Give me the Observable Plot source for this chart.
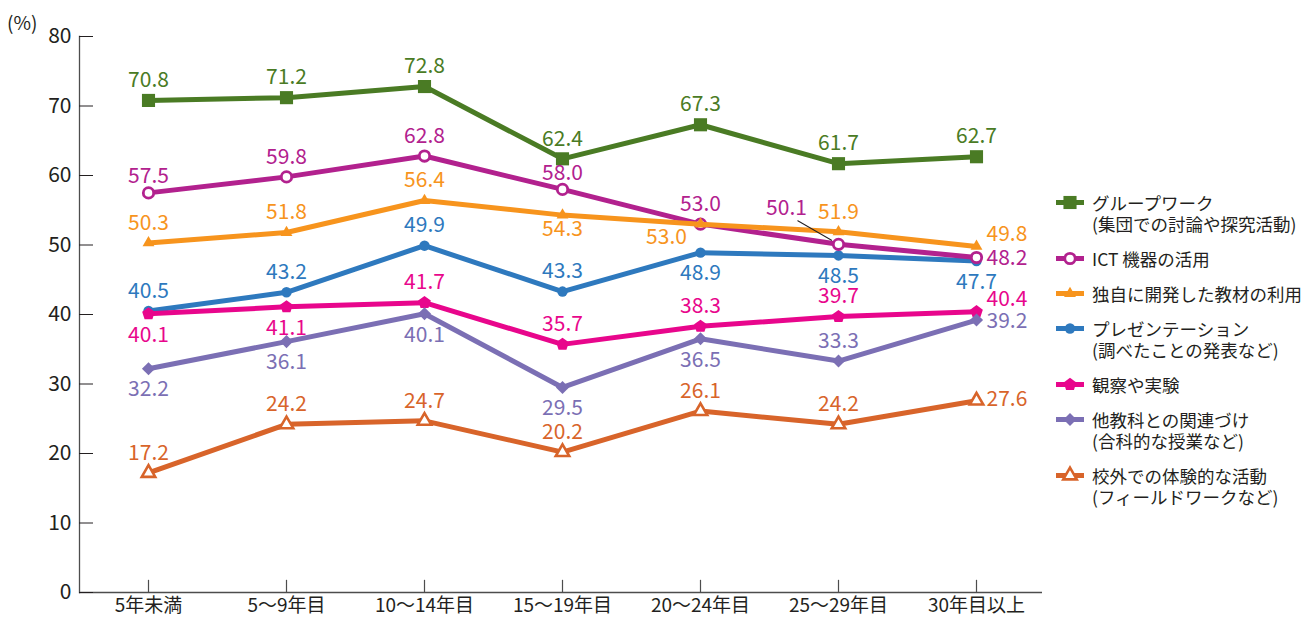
<!DOCTYPE html>
<html><head><meta charset="utf-8">
<script src="https://cdn.jsdelivr.net/npm/d3@7"></script>
<script src="https://cdn.jsdelivr.net/npm/@observablehq/plot@0.6"></script>
<style>
body{margin:0;background:#fff;font-family:"Noto Sans CJK JP","Noto Sans",sans-serif;}
#wrap{position:relative;width:1316px;height:619px;overflow:hidden;}
#chart{position:absolute;left:0;top:0;}
#unit{position:absolute;left:7px;top:8px;font-size:19px;color:#231f20;}
#legend{position:absolute;left:1055px;top:192px;font-size:17.5px;color:#231f20;line-height:21px;white-space:nowrap;}
.item{display:flex;align-items:flex-start;margin-bottom:14px;}
.item svg{flex:none;margin-right:7px;}
</style></head><body>
<div id="wrap"><div id="chart"></div><div id="unit">(%)</div><div id="legend"></div></div>
<script>
// ---- data ----
const categories = ["5年未満","5〜9年目","10〜14年目","15〜19年目","20〜24年目","25〜29年目","30年目以上"];
const yTicks = [0,10,20,30,40,50,60,70,80];
const seriesKeys = ["groupWork","ict","original","presentation","observation","crossCurricular","fieldwork"];
const legendLines = [
  ["グループワーク","(集団での討論や探究活動)"],
  ["ICT 機器の活用"],
  ["独自に開発した教材の利用"],
  ["プレゼンテーション","(調べたことの発表など)"],
  ["観察や実験"],
  ["他教科との関連づけ","(合科的な授業など)"],
  ["校外での体験的な活動","(フィールドワークなど)"]
];
const groupWork       = [70.8, 71.2, 72.8, 62.4, 67.3, 61.7, 62.7];
const ict             = [57.5, 59.8, 62.8, 58.0, 53.0, 50.1, 48.2];
const original        = [50.3, 51.8, 56.4, 54.3, 53.0, 51.9, 49.8];
const presentation    = [40.5, 43.2, 49.9, 43.3, 48.9, 48.5, 47.7];
const observation     = [40.1, 41.1, 41.7, 35.7, 38.3, 39.7, 40.4];
const crossCurricular = [32.2, 36.1, 40.1, 29.5, 36.5, 33.3, 39.2];
const fieldwork       = [17.2, 24.2, 24.7, 20.2, 26.1, 24.2, 27.6];
const values = {groupWork, ict, original, presentation, observation, crossCurricular, fieldwork};

// ---- styles ----
const pentagon = {draw(ctx, size){
  const R = Math.sqrt(size / (2.5 * Math.sin(2*Math.PI/5)));
  for (let i = 0; i < 5; i++){
    const a = -Math.PI/2 + i*2*Math.PI/5;
    const px = R*Math.cos(a), py = R*Math.sin(a);
    if (i===0) ctx.moveTo(px,py); else ctx.lineTo(px,py);
  }
  ctx.closePath();
}};
const styles = {
  groupWork:       {color:"#4a7b24", symbol:d3.symbolSquare,   r:7.4, fill:"#4a7b24", sw:0},
  ict:             {color:"#b2218e", symbol:d3.symbolCircle,   r:5.2, fill:"#ffffff", sw:2.8},
  original:        {color:"#f7941d", symbol:d3.symbolTriangle, r:4.4, fill:"#f7941d", sw:0},
  presentation:    {color:"#2e79be", symbol:d3.symbolCircle,   r:5.2, fill:"#2e79be", sw:0},
  observation:     {color:"#e8068c", symbol:pentagon,          r:5.8, fill:"#e8068c", sw:0},
  crossCurricular: {color:"#7b6fb4", symbol:d3.symbolDiamond2, r:5.9, fill:"#7b6fb4", sw:0},
  fieldwork:       {color:"#d8642a", symbol:d3.symbolTriangle, r:5.0, fill:"#ffffff", sw:2.6}
};
const labelPlacement = {
  groupWork:       ["a","a","a","a","a","a","a"],
  ict:             ["as","a","a","as","a","leader","rd"],
  original:        ["a","a","a","bc","bl","a","ru"],
  presentation:    ["a","a","a","a","b","b","b"],
  observation:     ["b","b","a","a","a","a","ru"],
  crossCurricular: ["b","b","b","b","b","a","rd"],
  fieldwork:       ["a","a","a","a","a","a","r"]
};
const place = {
  a:      {dy:-20},
  as:     {dy:-16.5},
  b:      {dy:21},
  bc:     {dy:14},
  bl:     {dx:-34, dy:13},
  r:      {dx:10, dy:-1, textAnchor:"start"},
  rd:     {dx:10, dy:1, textAnchor:"start"},
  ru:     {dx:10, dy:-12, textAnchor:"start"},
  leader: {dx:-52, dy:-36}
};
const drawOrder = ["presentation","ict","original","groupWork","observation","crossCurricular","fieldwork"];

const rows = [];
for (const k of seriesKeys) values[k].forEach((v,i)=>rows.push({key:k, cat:categories[i], value:v, pos:labelPlacement[k][i], color:styles[k].color}));

const axisColor = "#4d4d4d";
const marks = [
  Plot.frame({anchor:"left", stroke:axisColor, strokeWidth:1.3}),
  Plot.ruleY([0], {stroke:axisColor, strokeWidth:1.3}),
  Plot.ruleX(categories, {x:d=>d, y1:0, y2:1.75, stroke:axisColor, strokeWidth:1.2}),
  Plot.axisY({ticks:yTicks, tickSize:-14, tickPadding:22, fontSize:21, label:null, tickFormat:d=>String(d), color:"#231f20"}),
  Plot.axisX({tickSize:0, tickPadding:6, fontSize:19, label:null, color:"#231f20"})
];
for (const k of drawOrder){
  const s = styles[k];
  const data = rows.filter(d=>d.key===k);
  marks.push(Plot.line(data, {x:"cat", y:"value", stroke:s.color, strokeWidth:5, strokeLinejoin:"round"}));
  marks.push(Plot.dot(data, {x:"cat", y:"value", symbol:()=>s.symbol, r:s.r, fill:s.fill, stroke:s.color, strokeWidth:s.sw}));
}
// leader line for the displaced label
const leaderShape = {draw(ctx, l){ ctx.moveTo(0,-8); ctx.lineTo(0,-l); }};
marks.push(Plot.vector(rows.filter(d=>d.pos==="leader"), {x:"cat", y:"value", length:47, rotate:-60, anchor:"start", shape:leaderShape, stroke:"#231f20", strokeWidth:1}));
for (const p of Object.keys(place)){
  marks.push(Plot.text(rows.filter(d=>d.pos===p), {x:"cat", y:"value", text:d=>d.value.toFixed(1), fill:"color", fontSize:21, ...place[p]}));
}

const chart = Plot.plot({
  width:1050, height:619,
  marginLeft:79, marginRight:8, marginTop:36, marginBottom:27,
  x:{type:"point", domain:categories, range:[145,978], padding:0},
  y:{domain:[0,80]},
  color:{type:"identity"},
  symbol:{type:"identity"},
  style:{fontFamily:"'Noto Sans CJK JP','Noto Sans',sans-serif", background:"transparent", overflow:"visible"},
  marks
});
document.getElementById("chart").appendChild(chart);

// legend
const legend = d3.select("#legend");
seriesKeys.forEach((k,i)=>{
  const s = styles[k];
  const item = legend.append("div").attr("class","item");
  const svg = item.append("svg").attr("width",30).attr("height",21);
  svg.append("line").attr("x1",1).attr("x2",29).attr("y1",10.5).attr("y2",10.5).attr("stroke",s.color).attr("stroke-width",5);
  svg.append("path").attr("transform","translate(15,10.5)")
    .attr("d", d3.symbol(s.symbol, Math.PI*s.r*s.r)())
    .attr("fill", s.fill).attr("stroke", s.color).attr("stroke-width", s.sw);
  const txt = item.append("div");
  legendLines[i].forEach(t=>txt.append("div").text(t));
});
</script>
</body></html>
